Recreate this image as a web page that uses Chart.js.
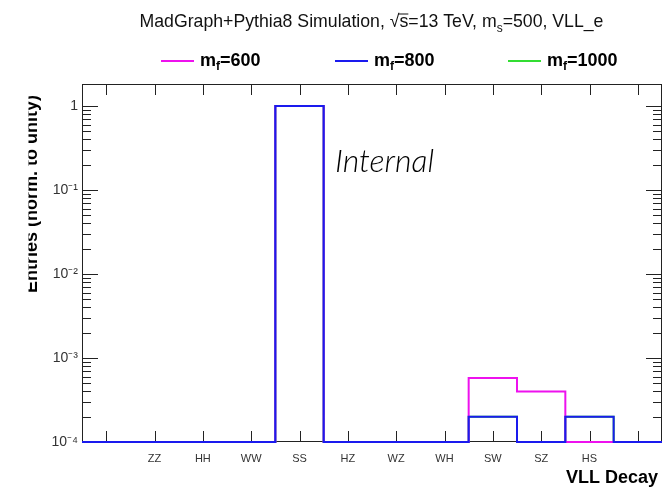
<!DOCTYPE html>
<html>
<head>
<meta charset="utf-8">
<script src="https://cdn.jsdelivr.net/npm/chart.js@4.4.1/dist/chart.umd.min.js"></script>
<style>
  html, body { margin: 0; padding: 0; background: #fff; }
</style>
</head>
<body>
<canvas id="decays" width="662" height="487"></canvas>
<script>
// VLL decay channel fractions, one bin per channel (first and last bins are empty padding bins)
var binLabels = ['', 'ZZ', 'HH', 'WW', 'SS', 'HZ', 'WZ', 'WH', 'SW', 'SZ', 'HS', ''];
var mf600  = [0, 0, 0, 0, 0.9990, 0, 0, 0, 0.00058, 0.00040, 0, 0];
var mf800  = [0, 0, 0, 0, 0.9996, 0, 0, 0, 0.00020, 0, 0.00020, 0];
var mf1000 = [0, 0, 0, 0, 0.9996, 0, 0, 0, 0.00020, 0, 0.00020, 0];
var massLabels = ['600', '800', '1000'];
var yDecades = [1e-4, 1e-3, 1e-2, 1e-1, 1];
var yMin = 1e-4, yMax = 1.83;

var sans = '"Liberation Sans", Arial, Helvetica, sans-serif';
var superDigits = { '-': '\u207B', '0': '\u2070', '1': '\u00B9', '2': '\u00B2', '3': '\u00B3', '4': '\u2074',
  '5': '\u2075', '6': '\u2076', '7': '\u2077', '8': '\u2078', '9': '\u2079' };

function toSuper(n) {
  return String(n).split('').map(function (c) { return superDigits[c]; }).join('');
}

// step outline: one point per bin low edge plus the closing edge; empty bins sit on the axis floor
function histPoints(vals) {
  var pts = vals.map(function (v, i) { return { x: i, y: v > 0 ? v : yMin }; });
  pts.push({ x: vals.length, y: pts[pts.length - 1].y });
  return pts;
}

// draws a run of text pieces left to right, each with its own font and vertical shift
function drawRich(ctx, x, y, parts, align) {
  var total = 0;
  parts.forEach(function (p) { ctx.font = p.font; p.w = ctx.measureText(p.t).width; total += p.w; });
  var cx = align === 'center' ? x - total / 2 : x;
  parts.forEach(function (p) {
    ctx.font = p.font;
    ctx.fillText(p.t, cx, y + (p.dy || 0));
    if (p.over) {
      ctx.fillRect(cx - 1, y - p.over, p.w + 1, 1);
    }
    cx += p.w;
  });
}

var rootFrame = {
  id: 'rootFrame',
  beforeDatasetsDraw: function (chart) {
    var ctx = chart.ctx, a = chart.chartArea;
    var xs = chart.scales.x, ys = chart.scales.y;
    ctx.save();
    ctx.strokeStyle = '#222';
    ctx.lineWidth = 1;
    ctx.strokeRect(a.left + 0.5, a.top + 0.5, a.right - a.left - 1, a.bottom - a.top - 1);
    ctx.beginPath();
    // bin-centre ticks, inside the frame on both horizontal axes
    xs.ticks.forEach(function (t) {
      var px = Math.round(xs.getPixelForValue(t.value)) + 0.5;
      ctx.moveTo(px, a.bottom); ctx.lineTo(px, a.bottom - 11);
      ctx.moveTo(px, a.top); ctx.lineTo(px, a.top + 11);
    });
    // log ticks: decades long, 2..9 short, mirrored on the right
    yDecades.forEach(function (d) {
      for (var m = 1; m <= 9; m++) {
        var v = m * d;
        if (v < yMin || v > yMax) continue;
        var len = m === 1 ? 16 : 9;
        var py = Math.round(ys.getPixelForValue(v)) + 0.5;
        ctx.moveTo(a.left, py); ctx.lineTo(a.left + len, py);
        ctx.moveTo(a.right, py); ctx.lineTo(a.right - len, py);
      }
    });
    ctx.stroke();
    ctx.restore();
  },
  afterDraw: function (chart) {
    var ctx = chart.ctx;
    ctx.save();
    ctx.fillStyle = '#111';
    ctx.textBaseline = 'alphabetic';

    var tf = '17.7px ' + sans, sf = '12px ' + sans;
    drawRich(ctx, 371.5, 26.5, [
      { t: 'MadGraph+Pythia8 Simulation, \u221A', font: tf },
      { t: 's', font: tf, over: 13 },
      { t: '=13 TeV, m', font: tf },
      { t: 's', font: sf, dy: 5 },
      { t: '=500, VLL_e', font: tf }
    ], 'center');

    // legend
    var lx = [161, 335, 508];
    chart.data.datasets.forEach(function (ds) {
      var j = ds.legendIndex;
      ctx.strokeStyle = ds.borderColor;
      ctx.lineWidth = 2;
      ctx.beginPath();
      ctx.moveTo(lx[j], 61); ctx.lineTo(lx[j] + 33, 61);
      ctx.stroke();
      ctx.fillStyle = '#000';
      drawRich(ctx, lx[j] + 39, 66, [
        { t: 'm', font: 'bold 18px ' + sans },
        { t: 'f', font: 'bold 12px ' + sans, dy: 4 },
        { t: '=' + ds.label, font: 'bold 18px ' + sans }
      ]);
    });

    ctx.fillStyle = '#000';
    ctx.font = 'italic 300 32px Lato, "Open Sans", sans-serif';
    ctx.textAlign = 'left';
    ctx.fillText('Internal', 335, 172);

    // horizontal axis title, right-aligned under the frame
    ctx.textAlign = 'right';
    ctx.font = 'bold 18px ' + sans;
    ctx.fillText('VLL Decay', 658, 483);

    // vertical axis title, cut at the pad edge
    ctx.save();
    ctx.beginPath();
    ctx.rect(28.5, 0, 60, 487);
    ctx.clip();
    ctx.translate(36.5, 95);
    ctx.rotate(-Math.PI / 2);
    ctx.textAlign = 'right';
    ctx.font = 'bold 18px ' + sans;
    ctx.fillText('Entries (norm. to unity)', 0, 0);
    ctx.restore();

    ctx.restore();
  }
};

var series = [mf600, mf800, mf1000];
var colors = ['#ee11ee', '#1a1aee', '#33dd33'];
var drawOrder = [1, 0, 2];

var decayChart = new Chart(document.getElementById('decays'), {
  type: 'line',
  data: {
    datasets: series.map(function (vals, i) {
      return {
        label: massLabels[i],
        legendIndex: i,
        data: histPoints(vals),
        borderColor: colors[i],
        backgroundColor: colors[i],
        borderWidth: 2,
        pointRadius: 0,
        fill: false,
        stepped: 'before',
        clip: 3,
        order: drawOrder[i]
      };
    })
  },
  options: {
    responsive: false,
    animation: false,
    devicePixelRatio: 1,
    layout: { padding: { top: 84, right: 0, bottom: 0, left: 0 } },
    plugins: {
      legend: { display: false },
      tooltip: { enabled: false }
    },
    scales: {
      x: {
        type: 'linear',
        min: 0,
        max: binLabels.length,
        grid: { display: false, drawTicks: false },
        border: { display: false },
        afterBuildTicks: function (scale) {
          scale.ticks = binLabels.map(function (lab, i) { return { value: i + 0.5 }; });
        },
        afterFit: function (scale) { scale.height = 45; },
        ticks: {
          autoSkip: false,
          maxRotation: 0,
          padding: 10,
          color: '#333',
          font: { family: sans, size: 11 },
          callback: function (value) { return binLabels[Math.floor(value)]; }
        }
      },
      y: {
        type: 'logarithmic',
        min: yMin,
        max: yMax,
        grid: { display: false, drawTicks: false },
        border: { display: false },
        afterBuildTicks: function (scale) {
          scale.ticks = yDecades.map(function (v) { return { value: v, major: true }; });
        },
        afterFit: function (scale) { scale.width = 82; },
        ticks: {
          padding: 4,
          color: '#333',
          font: { family: sans, size: 14 },
          callback: function (value) {
            var e = Math.round(Math.log10(value));
            return e === 0 ? '1' : '10' + toSuper(e);
          }
        }
      }
    }
  },
  plugins: [rootFrame]
});
</script>
</body>
</html>
